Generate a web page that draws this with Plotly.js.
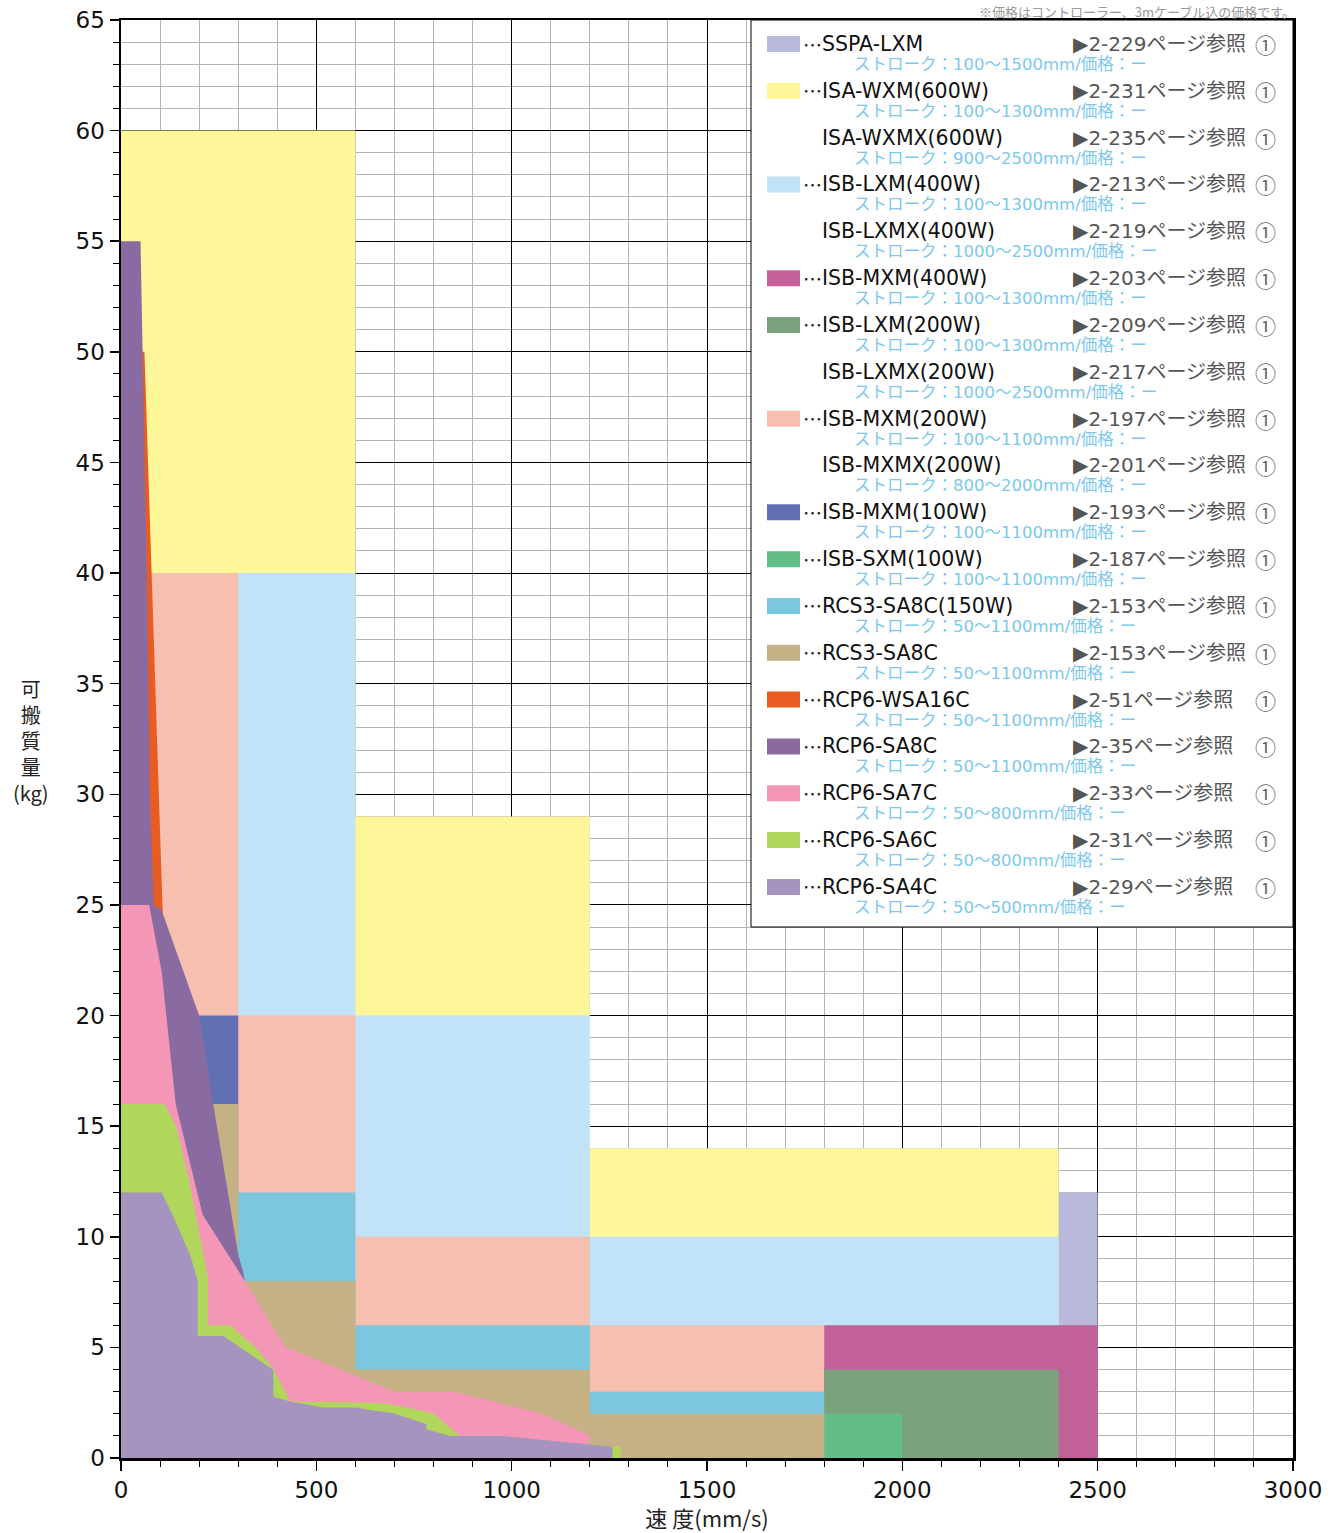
<!DOCTYPE html>
<html>
<head>
<meta charset="utf-8">
<script src="https://cdn.plot.ly/plotly-3.0.1.min.js"></script>
<style>html,body{margin:0;padding:0;background:#fff;}</style>
</head>
<body>
<div id="chart" style="width:1330px;height:1533px;"></div>
<script>
// ---------- DATA ----------
// Step-shaped series: speed breakpoints (mm/s) and payload (kg) for each segment
const sspaLxmBreaks = [2400, 2500];
const sspaLxmPayload = [12];
const isaWxm600Breaks = [0, 600, 1200, 2400];
const isaWxm600Payload = [60, 29, 14];
const isbLxm400Breaks = [0, 600, 1200, 2400];
const isbLxm400Payload = [40, 20, 10];
const isbMxm200Breaks = [0, 300, 600, 1200, 1800];
const isbMxm200Payload = [40, 20, 10, 6];
const isbMxm100Breaks = [0, 300];
const isbMxm100Payload = [20];
const isbMxm400Breaks = [1800, 2500];
const isbMxm400Payload = [6];
const isbLxm200Breaks = [1800, 2400];
const isbLxm200Payload = [4];
const isbSxm100Breaks = [1800, 2000];
const isbSxm100Payload = [2];
const rcs3Sa8c150Breaks = [0, 600, 1200, 1800];
const rcs3Sa8c150Payload = [12, 6, 3];
const rcs3Sa8cBreaks = [0, 300, 600, 1200, 1800];
const rcs3Sa8cPayload = [16, 8, 4, 2];

// Curve-shaped series: speed (mm/s) vs payload (kg) along the upper boundary
const rcp6Wsa16cSpeed = [0, 60, 78, 97, 106, 108];
const rcp6Wsa16cPayload = [50, 50, 40, 30, 25, 24.4];
const rcp6Sa8cSpeed = [0, 50, 55, 66, 74, 84, 103, 200, 236, 264, 300, 313, 317];
const rcp6Sa8cPayload = [55, 55, 50, 40, 30, 25, 24.8, 20, 16, 13, 9.2, 8.4, 8];
const rcp6Sa7cSpeed = [0, 72, 104, 140, 209, 317, 420, 701, 855, 1077, 1200];
const rcp6Sa7cPayload = [25, 25, 22, 16, 11, 8, 5.03, 3, 3, 2, 1.04];
const rcp6Sa6cSpeed = [0, 111, 140, 174, 211, 223, 223, 279, 343, 390, 433, 640, 689, 799, 868, 1260, 1279];
const rcp6Sa6cPayload = [16, 16, 15.05, 12.57, 9.18, 8.12, 6.0, 6.0, 5.03, 4.05, 2.55, 2.5, 2.43, 2.02, 0.99, 0.51, 0.51];
const rcp6Sa4cSpeed = [0, 104, 130, 177, 196, 196, 262, 390, 390, 433, 484, 518, 603, 637, 697, 782, 782, 842, 979, 1258];
const rcp6Sa4cPayload = [12, 12, 11.07, 9.18, 8.05, 5.51, 5.51, 3.98, 2.77, 2.55, 2.4, 2.28, 2.28, 2.17, 2.02, 1.52, 1.3, 0.99, 0.99, 0.51];

// Axis ticks
const xTickVals = [0, 500, 1000, 1500, 2000, 2500, 3000];
const yTickVals = [0, 5, 10, 15, 20, 25, 30, 35, 40, 45, 50, 55, 60, 65];

// Legend content
const legendNames = ['SSPA-LXM', 'ISA-WXM(600W)', 'ISA-WXMX(600W)', 'ISB-LXM(400W)', 'ISB-LXMX(400W)',
  'ISB-MXM(400W)', 'ISB-LXM(200W)', 'ISB-LXMX(200W)', 'ISB-MXM(200W)', 'ISB-MXMX(200W)',
  'ISB-MXM(100W)', 'ISB-SXM(100W)', 'RCS3-SA8C(150W)', 'RCS3-SA8C', 'RCP6-WSA16C',
  'RCP6-SA8C', 'RCP6-SA7C', 'RCP6-SA6C', 'RCP6-SA4C'];
const legendSwatch = [true, true, false, true, false, true, true, false, true, false, true, true, true, true, true, true, true, true, true];
const legendPages = ['2-229', '2-231', '2-235', '2-213', '2-219', '2-203', '2-209', '2-217', '2-197', '2-201',
  '2-193', '2-187', '2-153', '2-153', '2-51', '2-35', '2-33', '2-31', '2-29'];
const legendStrokes = ['100～1500', '100～1300', '900～2500', '100～1300', '1000～2500', '100～1300', '100～1300',
  '1000～2500', '100～1100', '800～2000', '100～1100', '100～1100', '50～1100', '50～1100', '50～1100',
  '50～1100', '50～800', '50～800', '50～500'];

// ---------- STYLE ----------
const C = {
  sspa: '#B9B9DB', wxm600: '#FDF799', lxm400: '#C1E2F7', mxm200: '#F6BFAF', mxm100: '#6070B2',
  mxm400: '#C2609A', lxm200: '#7BA27B', sxm100: '#62BD88', rcs150: '#7AC7DE', rcs: '#C5B184',
  wsa16: '#E85C21', sa8: '#8A6BA1', sa7: '#F497B6', sa6: '#B0D65C', sa4: '#A594C0'
};
const legendColors = [C.sspa, C.wxm600, null, C.lxm400, null, C.mxm400, C.lxm200, null, C.mxm200, null,
  C.mxm100, C.sxm100, C.rcs150, C.rcs, C.wsa16, C.sa8, C.sa7, C.sa6, C.sa4];

const JP = '"Noto Sans CJK JP", sans-serif';
const MIX = '"DejaVu Sans", "Noto Sans CJK JP", sans-serif';

function stepPoly(breaks, vals) {
  const xs = [breaks[0]], ys = [0];
  for (let i = 0; i < vals.length; i++) {
    xs.push(breaks[i], breaks[i + 1]);
    ys.push(vals[i], vals[i]);
  }
  xs.push(breaks[breaks.length - 1]); ys.push(0);
  return {xs, ys};
}
function curvePoly(sp, pl) {
  const xs = [sp[0]].concat(sp, [sp[sp.length - 1]]);
  const ys = [0].concat(pl, [0]);
  return {xs, ys};
}
function area(p, color, name) {
  return {type: 'scatter', mode: 'lines', x: p.xs, y: p.ys, fill: 'toself', fillcolor: color,
    line: {width: 0, color: color}, hoverinfo: 'skip', name: name, showlegend: false};
}

const traces = [
  area(stepPoly(sspaLxmBreaks, sspaLxmPayload), C.sspa, 'SSPA-LXM'),
  area(stepPoly(isaWxm600Breaks, isaWxm600Payload), C.wxm600, 'ISA-WXM(600W)'),
  area(stepPoly(isbLxm400Breaks, isbLxm400Payload), C.lxm400, 'ISB-LXM(400W)'),
  area(stepPoly(isbMxm200Breaks, isbMxm200Payload), C.mxm200, 'ISB-MXM(200W)'),
  area(stepPoly(isbMxm100Breaks, isbMxm100Payload), C.mxm100, 'ISB-MXM(100W)'),
  area(stepPoly(isbMxm400Breaks, isbMxm400Payload), C.mxm400, 'ISB-MXM(400W)'),
  area(stepPoly(isbLxm200Breaks, isbLxm200Payload), C.lxm200, 'ISB-LXM(200W)'),
  area(stepPoly(isbSxm100Breaks, isbSxm100Payload), C.sxm100, 'ISB-SXM(100W)'),
  area(stepPoly(rcs3Sa8c150Breaks, rcs3Sa8c150Payload), C.rcs150, 'RCS3-SA8C(150W)'),
  area(stepPoly(rcs3Sa8cBreaks, rcs3Sa8cPayload), C.rcs, 'RCS3-SA8C'),
  area(curvePoly(rcp6Wsa16cSpeed, rcp6Wsa16cPayload), C.wsa16, 'RCP6-WSA16C'),
  area(curvePoly(rcp6Sa8cSpeed, rcp6Sa8cPayload), C.sa8, 'RCP6-SA8C'),
  area(curvePoly(rcp6Sa7cSpeed, rcp6Sa7cPayload), C.sa7, 'RCP6-SA7C'),
  area(curvePoly(rcp6Sa6cSpeed, rcp6Sa6cPayload), C.sa6, 'RCP6-SA6C'),
  area(curvePoly(rcp6Sa4cSpeed, rcp6Sa4cPayload), C.sa4, 'RCP6-SA4C')
];

// ---------- LAYOUT ----------
const ML = 121, MR = 37, MT = 20, MB = 75, W = 1330, H = 1533;
const PW = W - ML - MR, PH = H - MT - MB;
const px2x = px => (px - ML) / PW;
const py2y = py => (H - MB - py) / PH;

const shapes = [{
  type: 'rect', xref: 'paper', yref: 'paper', layer: 'above',
  x0: px2x(751), x1: px2x(1293), y0: py2y(927), y1: py2y(20),
  fillcolor: '#ffffff', line: {color: '#000', width: 1}
}];
const annotations = [];
const rowStep = 46.83;
legendNames.forEach((nm, i) => {
  const cy = 44 + rowStep * i;
  if (legendSwatch[i]) {
    shapes.push({type: 'rect', xref: 'paper', yref: 'paper', layer: 'above',
      x0: px2x(767), x1: px2x(800), y0: py2y(cy + 8), y1: py2y(cy - 8),
      fillcolor: legendColors[i], line: {width: 0}});
    annotations.push({text: '…', x: px2x(801), y: py2y(cy), xref: 'paper', yref: 'paper',
      xanchor: 'left', yanchor: 'middle', showarrow: false, font: {family: JP, size: 19, color: '#222'}});
  }
  annotations.push({text: nm, x: px2x(820), y: py2y(cy), xref: 'paper', yref: 'paper',
    xanchor: 'left', yanchor: 'middle', showarrow: false, font: {family: MIX, size: 20.5, color: '#111'}});
  annotations.push({text: '▶' + legendPages[i] + 'ページ参照', x: px2x(1071), y: py2y(cy), xref: 'paper', yref: 'paper',
    xanchor: 'left', yanchor: 'middle', showarrow: false, font: {family: MIX, size: 20, color: '#555'}});
  annotations.push({text: '①', x: px2x(1265), y: py2y(cy), xref: 'paper', yref: 'paper',
    xanchor: 'center', yanchor: 'middle', showarrow: false, font: {family: JP, size: 21, color: '#666'}});
  annotations.push({text: 'ストローク：' + legendStrokes[i] + 'mm/価格：ー', x: px2x(852), y: py2y(cy + 20.5),
    xref: 'paper', yref: 'paper', xanchor: 'left', yanchor: 'middle', showarrow: false,
    font: {family: MIX, size: 16.5, color: '#7CC8EE'}});
});
annotations.push({text: '可<br>搬<br>質<br>量<br>(kg)', x: px2x(31), y: py2y(740), xref: 'paper', yref: 'paper',
  xanchor: 'center', yanchor: 'middle', align: 'center', showarrow: false, font: {family: JP, size: 20, color: '#222'}});
annotations.push({text: '※価格はコントローラー、3mケーブル込の価格です。', x: px2x(1296), y: py2y(1), xref: 'paper', yref: 'paper',
  xanchor: 'right', yanchor: 'top', showarrow: false, borderpad: 0, font: {family: JP, size: 13, color: '#999'}});

const axisCommon = {
  showgrid: true, gridcolor: '#000', gridwidth: 1, zeroline: false,
  showline: true, linecolor: '#000', linewidth: 2.5, mirror: true,
  ticks: 'outside', tickcolor: '#000', tickwidth: 1.5,
  tickfont: {family: '"DejaVu Sans", sans-serif', size: 23, color: '#111'}
};
const layout = {
  width: W, height: H,
  margin: {l: ML, r: MR, t: MT, b: MB, pad: 0},
  paper_bgcolor: '#fff', plot_bgcolor: '#fff',
  showlegend: false,
  xaxis: Object.assign({}, axisCommon, {
    range: [0, 3000], tickmode: 'array', tickvals: xTickVals, ticklen: 10,
    minor: {dtick: 100, tick0: 0, ticklen: 6, tickcolor: '#000', tickwidth: 1, showgrid: true, gridcolor: '#b4b4b4', gridwidth: 1},
    title: {text: '速 度(mm/s)', font: {family: JP, size: 22, color: '#222'}, standoff: 9}
  }),
  yaxis: Object.assign({}, axisCommon, {
    range: [0, 65], tickmode: 'array', tickvals: yTickVals, ticklen: 9,
    minor: {dtick: 1, tick0: 0, ticklen: 6, tickcolor: '#000', tickwidth: 1, showgrid: true, gridcolor: '#b4b4b4', gridwidth: 1}
  }),
  shapes: shapes,
  annotations: annotations
};

Plotly.newPlot('chart', traces, layout, {staticPlot: true, displayModeBar: false});
</script>
</body>
</html>
